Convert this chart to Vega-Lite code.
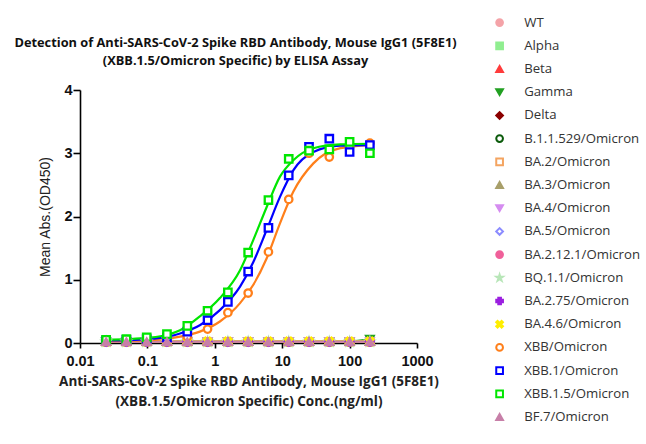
{
  "$schema": "https://vega.github.io/schema/vega-lite/v6.json",
  "autosize": "none",
  "width": 337,
  "height": 253,
  "padding": {"left": 80, "top": 90, "right": 229, "bottom": 101},
  "background": "white",
  "title": {
    "text": ["Detection of  Anti-SARS-CoV-2 Spike RBD Antibody, Mouse IgG1 (5F8E1)", "(XBB.1.5/Omicron Specific) by ELISA Assay"],
    "anchor": "middle",
    "frame": "group",
    "dx": -13,
    "dy": 70,
    "offset": 18,
    "font": "Open Sans",
    "fontSize": 12.8,
    "fontWeight": "bold",
    "color": "#111",
    "lineHeight": 18.5
  },
  "datasets": {
    "pts": [
      {"s":"WT","c":0.0244,"v":0.02},{"s":"WT","c":0.0488,"v":0.02},{"s":"WT","c":0.0977,"v":0.02},{"s":"WT","c":0.195,"v":0.02},{"s":"WT","c":0.391,"v":0.02},{"s":"WT","c":0.781,"v":0.02},{"s":"WT","c":1.5625,"v":0.02},{"s":"WT","c":3.125,"v":0.02},{"s":"WT","c":6.25,"v":0.02},{"s":"WT","c":12.5,"v":0.02},{"s":"WT","c":25,"v":0.02},{"s":"WT","c":50,"v":0.02},{"s":"WT","c":100,"v":0.02},{"s":"WT","c":200,"v":0.03},
      {"s":"Alpha","c":0.0244,"v":0.02},{"s":"Alpha","c":0.0488,"v":0.02},{"s":"Alpha","c":0.0977,"v":0.02},{"s":"Alpha","c":0.195,"v":0.02},{"s":"Alpha","c":0.391,"v":0.02},{"s":"Alpha","c":0.781,"v":0.02},{"s":"Alpha","c":1.5625,"v":0.02},{"s":"Alpha","c":3.125,"v":0.02},{"s":"Alpha","c":6.25,"v":0.02},{"s":"Alpha","c":12.5,"v":0.02},{"s":"Alpha","c":25,"v":0.02},{"s":"Alpha","c":50,"v":0.02},{"s":"Alpha","c":100,"v":0.02},{"s":"Alpha","c":200,"v":0.03},
      {"s":"Beta","c":0.0244,"v":0.02},{"s":"Beta","c":0.0488,"v":0.02},{"s":"Beta","c":0.0977,"v":0.02},{"s":"Beta","c":0.195,"v":0.02},{"s":"Beta","c":0.391,"v":0.02},{"s":"Beta","c":0.781,"v":0.02},{"s":"Beta","c":1.5625,"v":0.02},{"s":"Beta","c":3.125,"v":0.02},{"s":"Beta","c":6.25,"v":0.02},{"s":"Beta","c":12.5,"v":0.02},{"s":"Beta","c":25,"v":0.02},{"s":"Beta","c":50,"v":0.02},{"s":"Beta","c":100,"v":0.02},{"s":"Beta","c":200,"v":0.02},
      {"s":"Gamma","c":0.0244,"v":0.02},{"s":"Gamma","c":0.0488,"v":0.02},{"s":"Gamma","c":0.0977,"v":0.02},{"s":"Gamma","c":0.195,"v":0.02},{"s":"Gamma","c":0.391,"v":0.02},{"s":"Gamma","c":0.781,"v":0.02},{"s":"Gamma","c":1.5625,"v":0.02},{"s":"Gamma","c":3.125,"v":0.02},{"s":"Gamma","c":6.25,"v":0.02},{"s":"Gamma","c":12.5,"v":0.02},{"s":"Gamma","c":25,"v":0.02},{"s":"Gamma","c":50,"v":0.02},{"s":"Gamma","c":100,"v":0.02},{"s":"Gamma","c":200,"v":0.06},
      {"s":"Delta","c":0.0244,"v":0.02},{"s":"Delta","c":0.0488,"v":0.02},{"s":"Delta","c":0.0977,"v":0.02},{"s":"Delta","c":0.195,"v":0.02},{"s":"Delta","c":0.391,"v":0.02},{"s":"Delta","c":0.781,"v":0.02},{"s":"Delta","c":1.5625,"v":0.02},{"s":"Delta","c":3.125,"v":0.02},{"s":"Delta","c":6.25,"v":0.02},{"s":"Delta","c":12.5,"v":0.02},{"s":"Delta","c":25,"v":0.02},{"s":"Delta","c":50,"v":0.02},{"s":"Delta","c":100,"v":0.02},{"s":"Delta","c":200,"v":0.02},
      {"s":"B.1.1.529/Omicron","c":0.0244,"v":0.02},{"s":"B.1.1.529/Omicron","c":0.0488,"v":0.02},{"s":"B.1.1.529/Omicron","c":0.0977,"v":0.02},{"s":"B.1.1.529/Omicron","c":0.195,"v":0.02},{"s":"B.1.1.529/Omicron","c":0.391,"v":0.02},{"s":"B.1.1.529/Omicron","c":0.781,"v":0.02},{"s":"B.1.1.529/Omicron","c":1.5625,"v":0.02},{"s":"B.1.1.529/Omicron","c":3.125,"v":0.02},{"s":"B.1.1.529/Omicron","c":6.25,"v":0.02},{"s":"B.1.1.529/Omicron","c":12.5,"v":0.02},{"s":"B.1.1.529/Omicron","c":25,"v":0.02},{"s":"B.1.1.529/Omicron","c":50,"v":0.02},{"s":"B.1.1.529/Omicron","c":100,"v":0.02},{"s":"B.1.1.529/Omicron","c":200,"v":0.02},
      {"s":"BA.2/Omicron","c":0.0244,"v":0.02},{"s":"BA.2/Omicron","c":0.0488,"v":0.02},{"s":"BA.2/Omicron","c":0.0977,"v":0.02},{"s":"BA.2/Omicron","c":0.195,"v":0.02},{"s":"BA.2/Omicron","c":0.391,"v":0.02},{"s":"BA.2/Omicron","c":0.781,"v":0.02},{"s":"BA.2/Omicron","c":1.5625,"v":0.02},{"s":"BA.2/Omicron","c":3.125,"v":0.02},{"s":"BA.2/Omicron","c":6.25,"v":0.02},{"s":"BA.2/Omicron","c":12.5,"v":0.02},{"s":"BA.2/Omicron","c":25,"v":0.02},{"s":"BA.2/Omicron","c":50,"v":0.02},{"s":"BA.2/Omicron","c":100,"v":0.02},{"s":"BA.2/Omicron","c":200,"v":0.02},
      {"s":"BA.3/Omicron","c":0.0244,"v":0.02},{"s":"BA.3/Omicron","c":0.0488,"v":0.02},{"s":"BA.3/Omicron","c":0.0977,"v":0.02},{"s":"BA.3/Omicron","c":0.195,"v":0.02},{"s":"BA.3/Omicron","c":0.391,"v":0.02},{"s":"BA.3/Omicron","c":0.781,"v":0.02},{"s":"BA.3/Omicron","c":1.5625,"v":0.02},{"s":"BA.3/Omicron","c":3.125,"v":0.02},{"s":"BA.3/Omicron","c":6.25,"v":0.02},{"s":"BA.3/Omicron","c":12.5,"v":0.02},{"s":"BA.3/Omicron","c":25,"v":0.02},{"s":"BA.3/Omicron","c":50,"v":0.02},{"s":"BA.3/Omicron","c":100,"v":0.02},{"s":"BA.3/Omicron","c":200,"v":0.02},
      {"s":"BA.4/Omicron","c":0.0244,"v":0.02},{"s":"BA.4/Omicron","c":0.0488,"v":0.02},{"s":"BA.4/Omicron","c":0.0977,"v":0.02},{"s":"BA.4/Omicron","c":0.195,"v":0.02},{"s":"BA.4/Omicron","c":0.391,"v":0.02},{"s":"BA.4/Omicron","c":0.781,"v":0.02},{"s":"BA.4/Omicron","c":1.5625,"v":0.02},{"s":"BA.4/Omicron","c":3.125,"v":0.02},{"s":"BA.4/Omicron","c":6.25,"v":0.02},{"s":"BA.4/Omicron","c":12.5,"v":0.02},{"s":"BA.4/Omicron","c":25,"v":0.02},{"s":"BA.4/Omicron","c":50,"v":0.02},{"s":"BA.4/Omicron","c":100,"v":0.02},{"s":"BA.4/Omicron","c":200,"v":0.02},
      {"s":"BA.5/Omicron","c":0.0244,"v":0.02},{"s":"BA.5/Omicron","c":0.0488,"v":0.02},{"s":"BA.5/Omicron","c":0.0977,"v":0.02},{"s":"BA.5/Omicron","c":0.195,"v":0.02},{"s":"BA.5/Omicron","c":0.391,"v":0.02},{"s":"BA.5/Omicron","c":0.781,"v":0.02},{"s":"BA.5/Omicron","c":1.5625,"v":0.02},{"s":"BA.5/Omicron","c":3.125,"v":0.02},{"s":"BA.5/Omicron","c":6.25,"v":0.02},{"s":"BA.5/Omicron","c":12.5,"v":0.02},{"s":"BA.5/Omicron","c":25,"v":0.02},{"s":"BA.5/Omicron","c":50,"v":0.02},{"s":"BA.5/Omicron","c":100,"v":0.02},{"s":"BA.5/Omicron","c":200,"v":0.02},
      {"s":"BA.2.12.1/Omicron","c":0.0244,"v":0.02},{"s":"BA.2.12.1/Omicron","c":0.0488,"v":0.02},{"s":"BA.2.12.1/Omicron","c":0.0977,"v":0.02},{"s":"BA.2.12.1/Omicron","c":0.195,"v":0.02},{"s":"BA.2.12.1/Omicron","c":0.391,"v":0.02},{"s":"BA.2.12.1/Omicron","c":0.781,"v":0.02},{"s":"BA.2.12.1/Omicron","c":1.5625,"v":0.02},{"s":"BA.2.12.1/Omicron","c":3.125,"v":0.02},{"s":"BA.2.12.1/Omicron","c":6.25,"v":0.02},{"s":"BA.2.12.1/Omicron","c":12.5,"v":0.02},{"s":"BA.2.12.1/Omicron","c":25,"v":0.02},{"s":"BA.2.12.1/Omicron","c":50,"v":0.02},{"s":"BA.2.12.1/Omicron","c":100,"v":0.02},{"s":"BA.2.12.1/Omicron","c":200,"v":0.02},
      {"s":"BQ.1.1/Omicron","c":0.0244,"v":0.02},{"s":"BQ.1.1/Omicron","c":0.0488,"v":0.02},{"s":"BQ.1.1/Omicron","c":0.0977,"v":0.02},{"s":"BQ.1.1/Omicron","c":0.195,"v":0.02},{"s":"BQ.1.1/Omicron","c":0.391,"v":0.02},{"s":"BQ.1.1/Omicron","c":0.781,"v":0.02},{"s":"BQ.1.1/Omicron","c":1.5625,"v":0.02},{"s":"BQ.1.1/Omicron","c":3.125,"v":0.02},{"s":"BQ.1.1/Omicron","c":6.25,"v":0.02},{"s":"BQ.1.1/Omicron","c":12.5,"v":0.02},{"s":"BQ.1.1/Omicron","c":25,"v":0.02},{"s":"BQ.1.1/Omicron","c":50,"v":0.02},{"s":"BQ.1.1/Omicron","c":100,"v":0.02},{"s":"BQ.1.1/Omicron","c":200,"v":0.02},
      {"s":"BA.2.75/Omicron","c":0.0244,"v":0.02},{"s":"BA.2.75/Omicron","c":0.0488,"v":0.02},{"s":"BA.2.75/Omicron","c":0.0977,"v":0.02},{"s":"BA.2.75/Omicron","c":0.195,"v":0.02},{"s":"BA.2.75/Omicron","c":0.391,"v":0.02},{"s":"BA.2.75/Omicron","c":0.781,"v":0.02},{"s":"BA.2.75/Omicron","c":1.5625,"v":0.02},{"s":"BA.2.75/Omicron","c":3.125,"v":0.02},{"s":"BA.2.75/Omicron","c":6.25,"v":0.02},{"s":"BA.2.75/Omicron","c":12.5,"v":0.02},{"s":"BA.2.75/Omicron","c":25,"v":0.02},{"s":"BA.2.75/Omicron","c":50,"v":0.02},{"s":"BA.2.75/Omicron","c":100,"v":0.02},{"s":"BA.2.75/Omicron","c":200,"v":0.02},
      {"s":"BA.4.6/Omicron","c":0.0244,"v":0.025},{"s":"BA.4.6/Omicron","c":0.0488,"v":0.025},{"s":"BA.4.6/Omicron","c":0.0977,"v":0.025},{"s":"BA.4.6/Omicron","c":0.195,"v":0.025},{"s":"BA.4.6/Omicron","c":0.391,"v":0.025},{"s":"BA.4.6/Omicron","c":0.781,"v":0.025},{"s":"BA.4.6/Omicron","c":1.5625,"v":0.025},{"s":"BA.4.6/Omicron","c":3.125,"v":0.025},{"s":"BA.4.6/Omicron","c":6.25,"v":0.025},{"s":"BA.4.6/Omicron","c":12.5,"v":0.025},{"s":"BA.4.6/Omicron","c":25,"v":0.025},{"s":"BA.4.6/Omicron","c":50,"v":0.025},{"s":"BA.4.6/Omicron","c":100,"v":0.025},{"s":"BA.4.6/Omicron","c":200,"v":0.025},
      {"s":"XBB/Omicron","c":0.0244,"v":0.04},{"s":"XBB/Omicron","c":0.0488,"v":0.04},{"s":"XBB/Omicron","c":0.0977,"v":0.05},{"s":"XBB/Omicron","c":0.195,"v":0.06},{"s":"XBB/Omicron","c":0.391,"v":0.1},{"s":"XBB/Omicron","c":0.781,"v":0.22},{"s":"XBB/Omicron","c":1.5625,"v":0.48},{"s":"XBB/Omicron","c":3.125,"v":0.79},{"s":"XBB/Omicron","c":6.25,"v":1.44},{"s":"XBB/Omicron","c":12.5,"v":2.27},{"s":"XBB/Omicron","c":25,"v":3.0},{"s":"XBB/Omicron","c":50,"v":2.94},{"s":"XBB/Omicron","c":100,"v":3.1},{"s":"XBB/Omicron","c":200,"v":3.16},
      {"s":"XBB.1/Omicron","c":0.0244,"v":0.04},{"s":"XBB.1/Omicron","c":0.0488,"v":0.05},{"s":"XBB.1/Omicron","c":0.0977,"v":0.06},{"s":"XBB.1/Omicron","c":0.195,"v":0.09},{"s":"XBB.1/Omicron","c":0.391,"v":0.18},{"s":"XBB.1/Omicron","c":0.781,"v":0.36},{"s":"XBB.1/Omicron","c":1.5625,"v":0.65},{"s":"XBB.1/Omicron","c":3.125,"v":1.13},{"s":"XBB.1/Omicron","c":6.25,"v":1.82},{"s":"XBB.1/Omicron","c":12.5,"v":2.65},{"s":"XBB.1/Omicron","c":25,"v":3.1},{"s":"XBB.1/Omicron","c":50,"v":3.23},{"s":"XBB.1/Omicron","c":100,"v":3.02},{"s":"XBB.1/Omicron","c":200,"v":3.13},
      {"s":"XBB.1.5/Omicron","c":0.0244,"v":0.05},{"s":"XBB.1.5/Omicron","c":0.0488,"v":0.06},{"s":"XBB.1.5/Omicron","c":0.0977,"v":0.09},{"s":"XBB.1.5/Omicron","c":0.195,"v":0.14},{"s":"XBB.1.5/Omicron","c":0.391,"v":0.27},{"s":"XBB.1.5/Omicron","c":0.781,"v":0.51},{"s":"XBB.1.5/Omicron","c":1.5625,"v":0.8},{"s":"XBB.1.5/Omicron","c":3.125,"v":1.43},{"s":"XBB.1.5/Omicron","c":6.25,"v":2.26},{"s":"XBB.1.5/Omicron","c":12.5,"v":2.91},{"s":"XBB.1.5/Omicron","c":25,"v":3.04},{"s":"XBB.1.5/Omicron","c":50,"v":3.06},{"s":"XBB.1.5/Omicron","c":100,"v":3.18},{"s":"XBB.1.5/Omicron","c":200,"v":3.0},
      {"s":"BF.7/Omicron","c":0.0244,"v":0.02},{"s":"BF.7/Omicron","c":0.0488,"v":0.02},{"s":"BF.7/Omicron","c":0.0977,"v":0.02},{"s":"BF.7/Omicron","c":0.195,"v":0.02},{"s":"BF.7/Omicron","c":0.391,"v":0.02},{"s":"BF.7/Omicron","c":0.781,"v":0.02},{"s":"BF.7/Omicron","c":1.5625,"v":0.02},{"s":"BF.7/Omicron","c":3.125,"v":0.02},{"s":"BF.7/Omicron","c":6.25,"v":0.02},{"s":"BF.7/Omicron","c":12.5,"v":0.02},{"s":"BF.7/Omicron","c":25,"v":0.02},{"s":"BF.7/Omicron","c":50,"v":0.02},{"s":"BF.7/Omicron","c":100,"v":0.02},{"s":"BF.7/Omicron","c":200,"v":0.02}
    ],
    "fit": [
      {"s":"XBB/Omicron","c":0.0244,"v":0.03},{"s":"XBB/Omicron","c":0.05,"v":0.035},{"s":"XBB/Omicron","c":0.1,"v":0.045},{"s":"XBB/Omicron","c":0.2,"v":0.07},{"s":"XBB/Omicron","c":0.305,"v":0.1},{"s":"XBB/Omicron","c":0.6,"v":0.18},{"s":"XBB/Omicron","c":1.19,"v":0.34},{"s":"XBB/Omicron","c":2.37,"v":0.63},{"s":"XBB/Omicron","c":3.73,"v":0.92},{"s":"XBB/Omicron","c":5.89,"v":1.34},{"s":"XBB/Omicron","c":9.27,"v":1.89},{"s":"XBB/Omicron","c":14.6,"v":2.39},{"s":"XBB/Omicron","c":29,"v":2.84},{"s":"XBB/Omicron","c":72.9,"v":3.08},{"s":"XBB/Omicron","c":200,"v":3.13},
      {"s":"XBB.1/Omicron","c":0.0244,"v":0.04},{"s":"XBB.1/Omicron","c":0.05,"v":0.045},{"s":"XBB.1/Omicron","c":0.1,"v":0.06},{"s":"XBB.1/Omicron","c":0.2,"v":0.1},{"s":"XBB.1/Omicron","c":0.305,"v":0.15},{"s":"XBB.1/Omicron","c":0.6,"v":0.28},{"s":"XBB.1/Omicron","c":1.19,"v":0.52},{"s":"XBB.1/Omicron","c":2.37,"v":0.89},{"s":"XBB.1/Omicron","c":3.73,"v":1.28},{"s":"XBB.1/Omicron","c":5.89,"v":1.79},{"s":"XBB.1/Omicron","c":9.27,"v":2.31},{"s":"XBB.1/Omicron","c":14.6,"v":2.73},{"s":"XBB.1/Omicron","c":29,"v":3.02},{"s":"XBB.1/Omicron","c":72.9,"v":3.12},{"s":"XBB.1/Omicron","c":200,"v":3.13},
      {"s":"XBB.1.5/Omicron","c":0.0244,"v":0.05},{"s":"XBB.1.5/Omicron","c":0.05,"v":0.06},{"s":"XBB.1.5/Omicron","c":0.1,"v":0.08},{"s":"XBB.1.5/Omicron","c":0.2,"v":0.13},{"s":"XBB.1.5/Omicron","c":0.305,"v":0.2},{"s":"XBB.1.5/Omicron","c":0.6,"v":0.42},{"s":"XBB.1.5/Omicron","c":1.19,"v":0.71},{"s":"XBB.1.5/Omicron","c":2.37,"v":1.15},{"s":"XBB.1.5/Omicron","c":3.73,"v":1.63},{"s":"XBB.1.5/Omicron","c":5.89,"v":2.15},{"s":"XBB.1.5/Omicron","c":9.27,"v":2.63},{"s":"XBB.1.5/Omicron","c":14.6,"v":2.89},{"s":"XBB.1.5/Omicron","c":29,"v":3.08},{"s":"XBB.1.5/Omicron","c":72.9,"v":3.14},{"s":"XBB.1.5/Omicron","c":200,"v":3.15}
    ]
  },
  "encoding": {
    "x": {
      "field": "c", "type": "quantitative",
      "scale": {"type": "log", "domain": [0.01, 1000], "nice": false},
      "axis": {
        "values": [0.01, 0.1, 1, 10, 100, 1000],
        "format": "~g",
        "labelFlush": false,
        "labelPadding": 6,
        "title": ["Anti-SARS-CoV-2 Spike RBD Antibody, Mouse IgG1 (5F8E1)", "(XBB.1.5/Omicron Specific) Conc.(ng/ml)"],
        "titleFont": "Open Sans", "titleFontSize": 13.5, "titleFontWeight": "bold", "titleColor": "#222",
        "titleLineHeight": 20, "titlePadding": 7
      }
    },
    "y": {
      "field": "v", "type": "quantitative",
      "scale": {"domain": [0, 4], "nice": false},
      "axis": {
        "values": [0, 1, 2, 3, 4],
        "tickSize": 7,
        "labelPadding": 1,
        "title": "Mean Abs.(OD450)",
        "titleFont": "Liberation Sans", "titleFontSize": 14, "titleFontWeight": "normal", "titleColor": "#222",
        "titlePadding": 11
      }
    }
  },
  "layer": [
    {
      "data": {"name": "pts"},
      "transform": [{"filter": "indexof(['XBB/Omicron','XBB.1/Omicron','XBB.1.5/Omicron'], datum.s) < 0"}],
      "mark": {"type": "line", "strokeWidth": 2},
      "encoding": {
        "detail": {"field": "s"},
        "color": {"field": "s", "type": "nominal", "legend": null,
          "scale": {
            "domain": ["XBB/Omicron","XBB.1/Omicron","XBB.1.5/Omicron","WT","Alpha","Beta","Gamma","Delta","B.1.1.529/Omicron","BA.2/Omicron","BA.3/Omicron","BA.4/Omicron","BA.5/Omicron","BA.2.12.1/Omicron","BQ.1.1/Omicron","BA.2.75/Omicron","BA.4.6/Omicron","BF.7/Omicron"],
            "range": ["#ff7f1a","#0000ff","#00e600","#f4a3a8","#90ee90","#ff3b3b","#22a022","#8b0000","#0a5a0a","#f4a460","#a89f6a","#d58cf0","#8c8cff","#f0609a","#b8e6b8","#9b1fe0","#ffee00","#c77fa8"]
          }
        }
      }
    },
    {
      "data": {"name": "fit"},
      "mark": {"type": "line", "strokeWidth": 2.2, "interpolate": "monotone"},
      "encoding": {
        "detail": {"field": "s"},
        "color": {"field": "s", "type": "nominal", "legend": null}
      }
    },
    {
      "data": {"name": "pts"},
      "mark": {"type": "point", "size": 55, "strokeWidth": 2.3, "opacity": 1},
      "encoding": {
        "fill": {"field": "s", "type": "nominal",
          "scale": {
            "domain": ["WT","Alpha","Beta","Gamma","Delta","B.1.1.529/Omicron","BA.2/Omicron","BA.3/Omicron","BA.4/Omicron","BA.5/Omicron","BA.2.12.1/Omicron","BQ.1.1/Omicron","BA.2.75/Omicron","BA.4.6/Omicron","XBB/Omicron","XBB.1/Omicron","XBB.1.5/Omicron","BF.7/Omicron"],
            "range": ["#f4a3a8","#90ee90","#ff3b3b","#22a022","#8b0000","white","white","#a89f6a","#d58cf0","white","#f0609a","#b8e6b8","#9b1fe0","#ffee00","white","white","white","#c77fa8"]
          },
          "legend": {"title": null}
        },
        "stroke": {"field": "s", "type": "nominal",
          "scale": {
            "domain": ["WT","Alpha","Beta","Gamma","Delta","B.1.1.529/Omicron","BA.2/Omicron","BA.3/Omicron","BA.4/Omicron","BA.5/Omicron","BA.2.12.1/Omicron","BQ.1.1/Omicron","BA.2.75/Omicron","BA.4.6/Omicron","XBB/Omicron","XBB.1/Omicron","XBB.1.5/Omicron","BF.7/Omicron"],
            "range": ["#f4a3a8","#90ee90","#ff3b3b","#22a022","#8b0000","#0a5a0a","#f4a460","#a89f6a","#d58cf0","#8c8cff","#f0609a","#b8e6b8","#9b1fe0","#ffee00","#ff7f1a","#0000ff","#00e600","#c77fa8"]
          },
          "legend": {"title": null}
        },
        "shape": {"field": "s", "type": "nominal",
          "scale": {
            "domain": ["WT","Alpha","Beta","Gamma","Delta","B.1.1.529/Omicron","BA.2/Omicron","BA.3/Omicron","BA.4/Omicron","BA.5/Omicron","BA.2.12.1/Omicron","BQ.1.1/Omicron","BA.2.75/Omicron","BA.4.6/Omicron","XBB/Omicron","XBB.1/Omicron","XBB.1.5/Omicron","BF.7/Omicron"],
            "range": ["circle","square","triangle-up","triangle-down","diamond","circle","square","triangle-up","triangle-down","diamond","circle","M0,-1L0.225,-0.31L0.95,-0.31L0.36,0.12L0.59,0.81L0,0.38L-0.59,0.81L-0.36,0.12L-0.95,-0.31L-0.225,-0.31Z","cross","M-1,-0.6L-0.6,-1L0,-0.4L0.6,-1L1,-0.6L0.4,0L1,0.6L0.6,1L0,0.4L-0.6,1L-1,0.6L-0.4,0Z","circle","square","square","triangle-up"]
          },
          "legend": {"title": null}
        }
      }
    }
  ],
  "config": {
    "view": {"stroke": null},
    "axis": {
      "grid": false,
      "domainColor": "#000", "domainWidth": 1.6,
      "tickColor": "#000", "tickWidth": 1.6, "tickSize": 5,
      "labelFont": "Liberation Sans", "labelFontSize": 14.5, "labelFontWeight": "bold", "labelColor": "#111",
      "labelPadding": 2
    },
    "legend": {
      "orient": "none",
      "legendX": 413,
      "legendY": -74,
      "labelFont": "Open Sans",
      "labelFontSize": 13.2,
      "labelColor": "#333",
      "symbolSize": 45,
      "symbolStrokeWidth": 2,
      "rowPadding": 8.2,
      "labelOffset": 18,
      "labelLimit": 200
    }
  }
}
